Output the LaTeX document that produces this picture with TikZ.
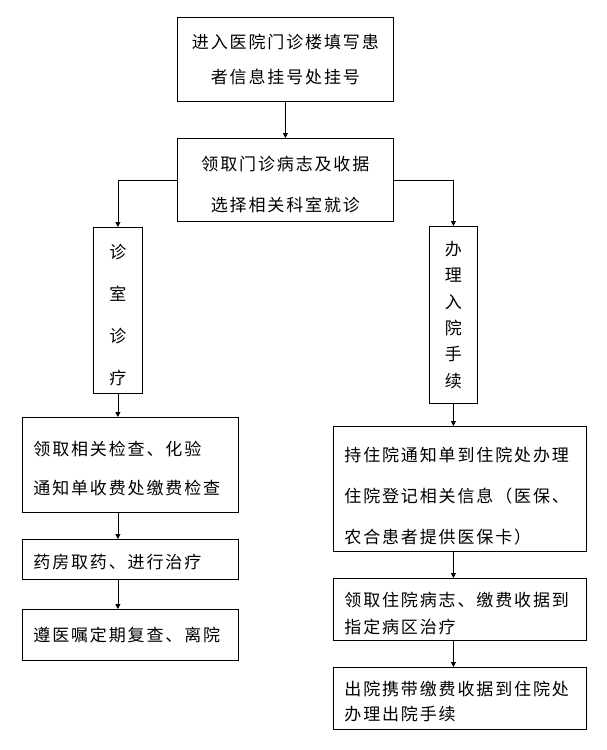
\documentclass[tikz,border=0pt]{standalone}
\usepackage{fontspec}
\newfontfamily\cjk[LetterSpace=11]{Noto Sans CJK SC}
\usetikzlibrary{arrows.meta}
\tikzset{
  kuang/.style={draw,line width=0.8pt,rectangle,anchor=north west,inner sep=0pt},
  zhong/.style={kuang,align=center},
  zuo/.style={kuang,inner xsep=11pt,text width=#1,align=left},
  jt/.style={line width=0.8pt,-{Triangle[length=5pt,width=5pt]}}
}
\newcommand{\zh}[1]{\cjk\fontsize{17}{#1}\selectfont}
% strut on the first line, pushes the text a bit down
\newcommand{\xia}[1]{\rule{0pt}{#1pt}}
\begin{document}
\begin{tikzpicture}[x=1pt,y=-1pt]
\useasboundingbox (0,0) rectangle (607,750);
% upper part
\node[zhong,minimum width=216,minimum height=84,font=\zh{35}] (guahao) at (177,17)
  {进入医院门诊楼填写患\\者信息挂号处挂号};
\node[zhong,minimum width=216,minimum height=83,font=\zh{41}] (bingzhi) at (177,138)
  {\xia{23}领取门诊病志及收据\\选择相关科室就诊};
\node[zhong,minimum width=49,minimum height=166,font=\zh{42}] (zhenshi) at (93,227)
  {\xia{23}诊\\室\\诊\\疗};
\node[zhong,minimum width=48,minimum height=177,font=\zh{26.4}] (ruyuan) at (429,226)
  {办\\理\\入\\院\\手\\续};
% outpatient side
\node[zuo=194,minimum height=95,font=\zh{39}] (jiancha) at (22,417)
  {\xia{21}领取相关检查、化验\\通知单收费处缴费检查};
\node[zuo=194,minimum height=40,font=\zh{20}] (quyao) at (22,539)
  {\xia{19}药房取药、进行治疗};
\node[zuo=194,minimum height=51,font=\zh{20}] (liyuan) at (22,609)
  {遵医嘱定期复查、离院};
% inpatient side
\node[zuo=231,minimum height=125,font=\zh{41}] (dengji) at (333,426)
  {\xia{29}持住院通知单到住院处办理\\住院登记相关信息（医保、\\农合患者提供医保卡）};
\node[zuo=231,minimum height=62,font=\zh{27}] (bingqu) at (333,578)
  {\xia{23}领取住院病志、缴费收据到\\指定病区治疗};
\node[zuo=231,minimum height=62,font=\zh{25.5}] (chuyuan) at (333,667)
  {\xia{21}出院携带缴费收据到住院处\\办理出院手续};
% arrows
\draw[jt] (guahao) -- (bingzhi);
\draw[jt] (bingzhi.west) -| (zhenshi.north);
\draw[jt] (bingzhi.east) -| (ruyuan.north);
\draw[jt] (zhenshi.south) -- (zhenshi.south |- jiancha.north);
\draw[jt] (jiancha.south -| zhenshi.south) -- (quyao.north -| zhenshi.south);
\draw[jt] (quyao.south -| zhenshi.south) -- (liyuan.north -| zhenshi.south);
\draw[jt] (ruyuan.south) -- (ruyuan.south |- dengji.north);
\draw[jt] (dengji.south -| ruyuan.south) -- (bingqu.north -| ruyuan.south);
\draw[jt] (bingqu.south -| ruyuan.south) -- (chuyuan.north -| ruyuan.south);
\end{tikzpicture}
\end{document}
